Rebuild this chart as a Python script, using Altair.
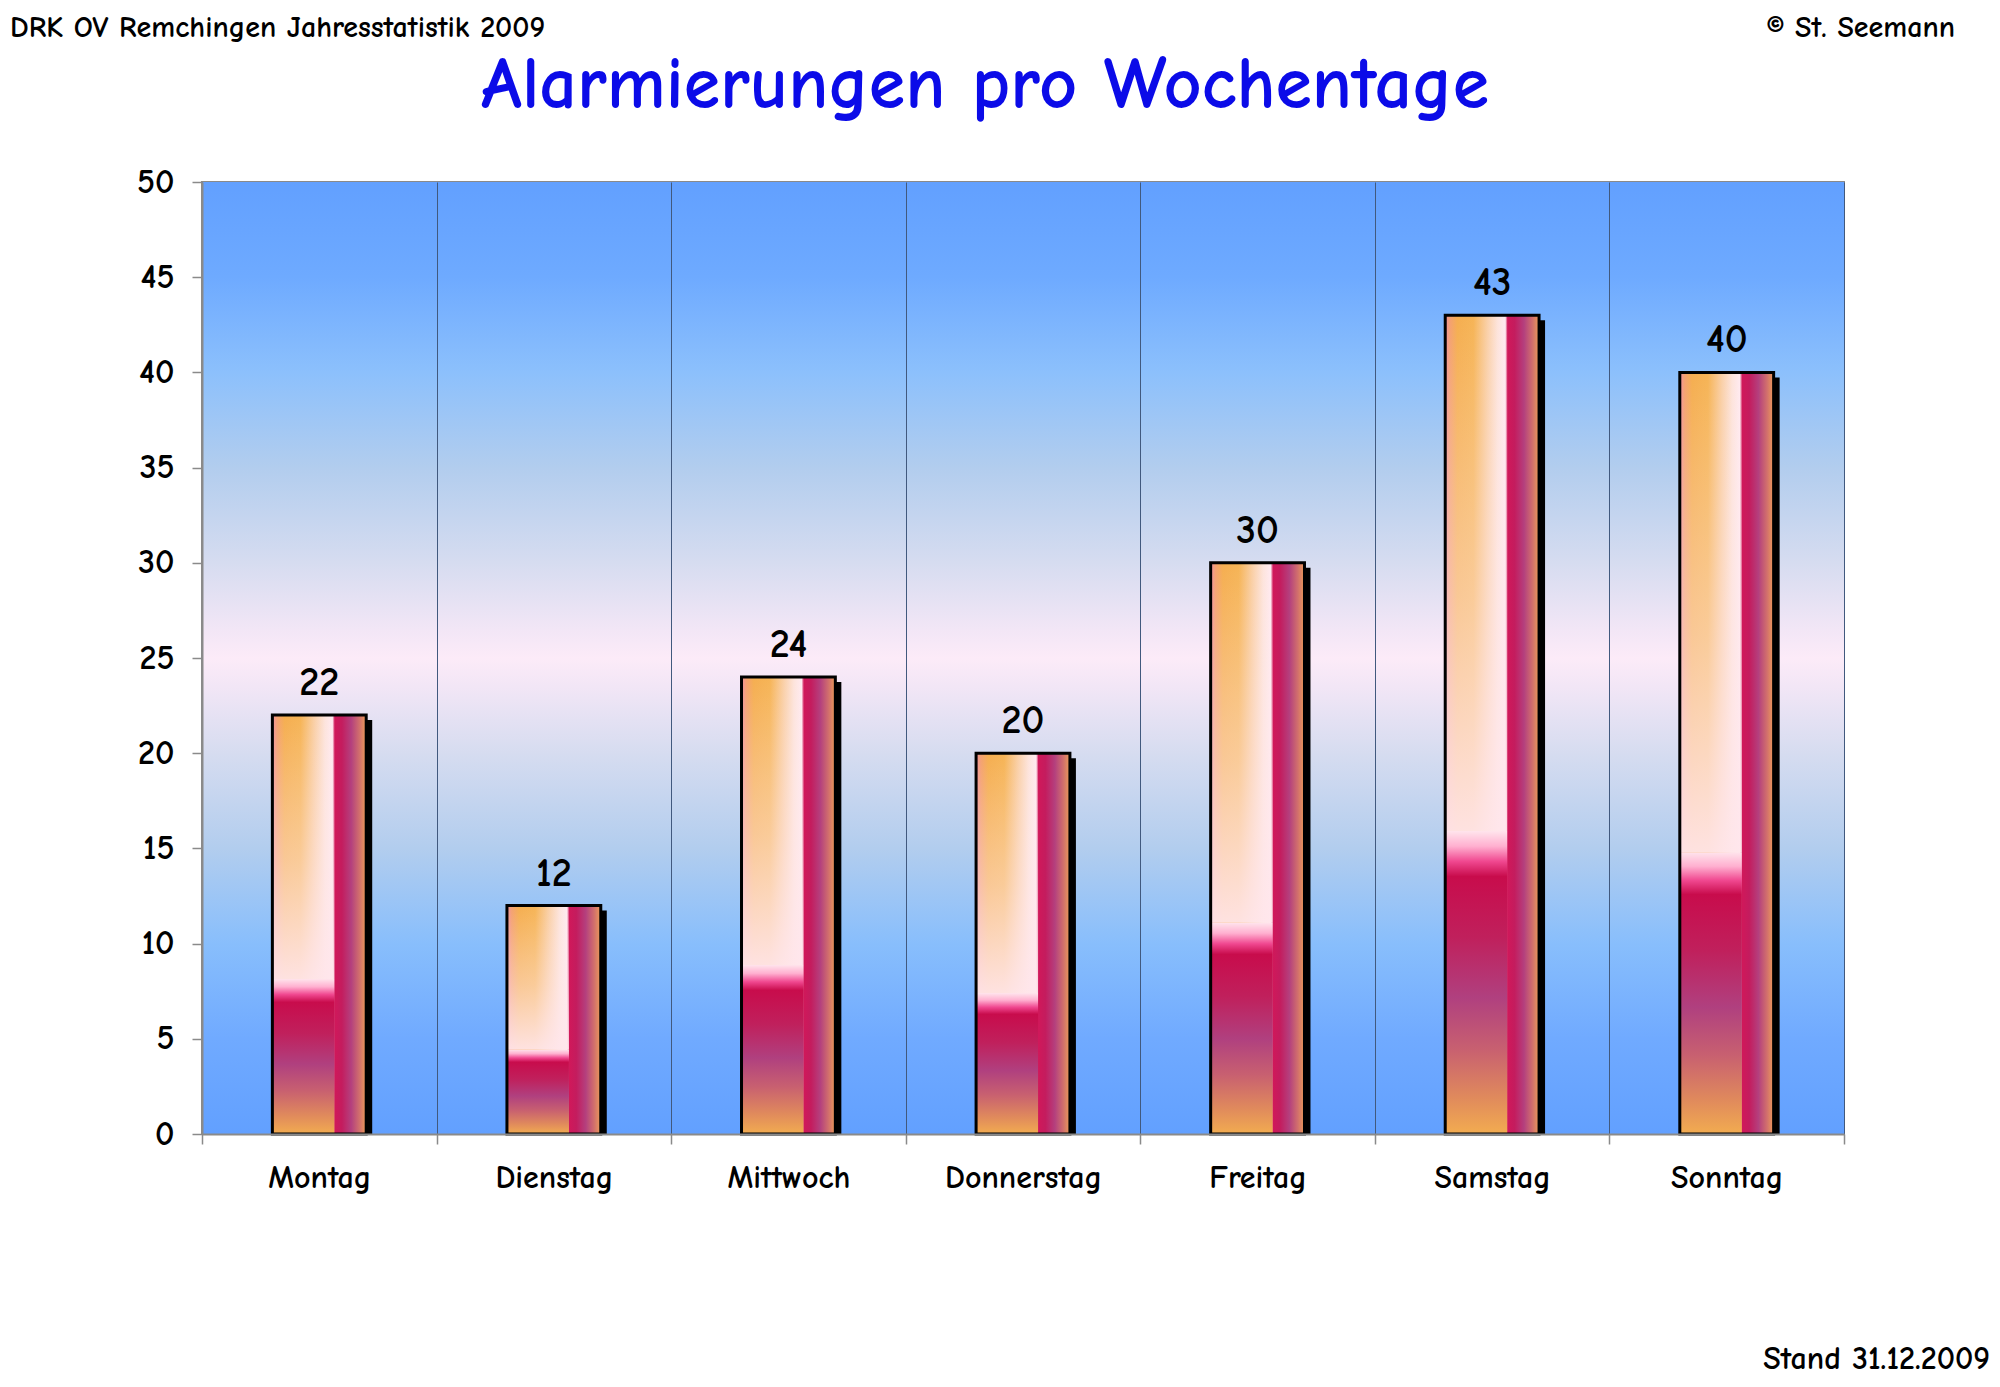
import altair as alt
import pandas as pd

# ---- data ----
days = ["Montag", "Dienstag", "Mittwoch", "Donnerstag", "Freitag", "Samstag", "Sonntag"]
counts = [22, 12, 24, 20, 30, 43, 40]
y_ticks = [0, 5, 10, 15, 20, 25, 30, 35, 40, 45, 50]

title_text = "Alarmierungen pro Wochentage"
header_left = "DRK OV Remchingen Jahresstatistik 2009"
header_right = "© St. Seemann"
footer_right = "Stand 31.12.2009"

# ---- style ----
FONT = "Comic Sans MS, Comic Neue, Lato, sans-serif"
W, H = 1642, 952
PAD = {"left": 194, "top": 174, "right": 148, "bottom": 245}

df = pd.DataFrame({"day": days, "n": counts})

def lin(stops, vertical=False):
    return {"gradient": "linear", "x1": 0, "y1": 0,
            "x2": 0 if vertical else 1, "y2": 1 if vertical else 0,
            "stops": [{"offset": o, "color": c} for o, c in stops]}

bg_grad = lin([
    (0.00, "#62A0FF"), (0.10, "#6EAAFF"), (0.20, "#8CC0FC"), (0.30, "#B2CDEE"),
    (0.40, "#D6DCF0"), (0.47, "#F2E6F6"), (0.50, "#FCEBF8"), (0.53, "#F2E6F6"),
    (0.60, "#D6DCF0"), (0.70, "#B2CDEE"), (0.80, "#88BEFC"), (0.90, "#70AAFF"),
    (1.00, "#62A0FF")], vertical=True)

bar_grad = lin([
    (0.00, "#F290A0"), (0.05, "#F4A070"), (0.13, "#F5AE50"), (0.30, "#F6B456"),
    (0.45, "#FAD0A8"), (0.56, "#FDE4DC"), (0.64, "#FFEAF0"), (0.665, "#D0185A"),
    (0.74, "#C41C5E"), (0.84, "#B4407E"), (0.93, "#D2706C"), (1.00, "#EC9C58")])

fade_grad = lin([
    (0.00, "rgba(255,236,240,0)"), (0.55, "rgba(255,232,236,0.45)"),
    (1.00, "rgba(255,230,236,0.92)")], vertical=True)

low_grad = lin([
    (0.00, "#FFE4EC"), (0.05, "#FFB0D0"), (0.10, "#F04890"), (0.15, "#C80C4C"),
    (0.35, "#C0205C"), (0.55, "#B0407F"), (0.72, "#C86070"), (0.88, "#E08A5C"),
    (1.00, "#F2AC50")], vertical=True)

x_enc = alt.X(
    "day:N", sort=days, title=None,
    scale=alt.Scale(paddingInner=0, paddingOuter=0),
    axis=alt.Axis(tickBand="extent", grid=True, gridColor="#41597E", gridWidth=1,
                  labelAngle=0, labelFont=FONT, labelFontSize=32, labelFontWeight="bold",
                  labelColor="black", labelPadding=18, tickSize=10, tickColor="#8A8A8A",
                  tickWidth=1.5, domainColor="#8A8A8A", domainWidth=2, zindex=1),
)
y_enc = alt.Y(
    "n:Q", title=None,
    scale=alt.Scale(domain=[0, 50], nice=False),
    axis=alt.Axis(values=y_ticks, grid=False, labelFont=FONT, labelFontSize=34,
                  labelFontWeight="bold", labelColor="black", labelPadding=18,
                  tickSize=10, tickColor="#8A8A8A", tickWidth=1.5,
                  domainColor="#8A8A8A", domainWidth=2, zindex=1),
)

base = alt.Chart(df)

bg = alt.Chart(pd.DataFrame({"k": [0]})).mark_rect(fill=bg_grad).encode(
    x=alt.value(0), x2=alt.value(W), y=alt.value(0), y2=alt.value(H))

BW = alt.RelativeBandSize(0.4)

shadow = base.mark_bar(color="black", width=BW, xOffset=6, yOffset=5, y2Offset=0).encode(
    x=x_enc, y=y_enc, y2=alt.datum(0))

# white strip just below the axis so the shadow ends at the baseline
mask = alt.Chart(pd.DataFrame({"k": [0]})).mark_rect(fill="white").encode(
    x=alt.value(0), x2=alt.value(W + 10), y=alt.value(H + 1), y2=alt.value(H + 9))

main = base.mark_bar(fill=bar_grad, width=BW).encode(x=x_enc, y=y_enc)

fade = base.transform_calculate(low="datum.n * 0.37").mark_bar(
    fill=fade_grad, width=alt.RelativeBandSize(0.265), xOffset=-16).encode(
    x=x_enc, y=y_enc, y2="low:Q")

lower = base.transform_calculate(low="datum.n * 0.37").mark_bar(
    fill=low_grad, width=alt.RelativeBandSize(0.265), xOffset=-16).encode(
    x=x_enc, y=alt.Y("low:Q"))

outline = base.mark_bar(fillOpacity=0, stroke="black", strokeWidth=3, width=BW).encode(
    x=x_enc, y=y_enc)

values = base.mark_text(baseline="alphabetic", dy=-20, fontSize=40, fontWeight="bold",
                        font=FONT, color="black").encode(x=x_enc, y=y_enc, text="n:Q")

def note(txt, x, y, size, weight, align, color="black"):
    return alt.Chart(pd.DataFrame({"t": [txt]})).mark_text(
        font=FONT, fontSize=size, fontWeight=weight, align=align,
        baseline="alphabetic", color=color).encode(
        x=alt.value(x), y=alt.value(y), text="t:N")

t_left = note(header_left, -192, -145, 30, "bold", "left")
t_right = note(header_right, 1753, -145, 30, "bold", "right")
t_foot = note(footer_right, 1788, 1187, 32, "bold", "right")
t_title = note(title_text, 783, -74, 74, "bold", "center", color="#0B0BE8")

chart = alt.layer(bg, shadow, mask, main, fade, lower, outline, values,
                  t_left, t_right, t_foot, t_title).properties(
    width=W, height=H, padding=PAD, autosize=alt.AutoSizeParams(type="none"),
    background="white",
).configure_view(stroke="#8A8A8A", strokeWidth=2)

chart.save("out.html", embed_options={"renderer": "svg", "actions": False})
